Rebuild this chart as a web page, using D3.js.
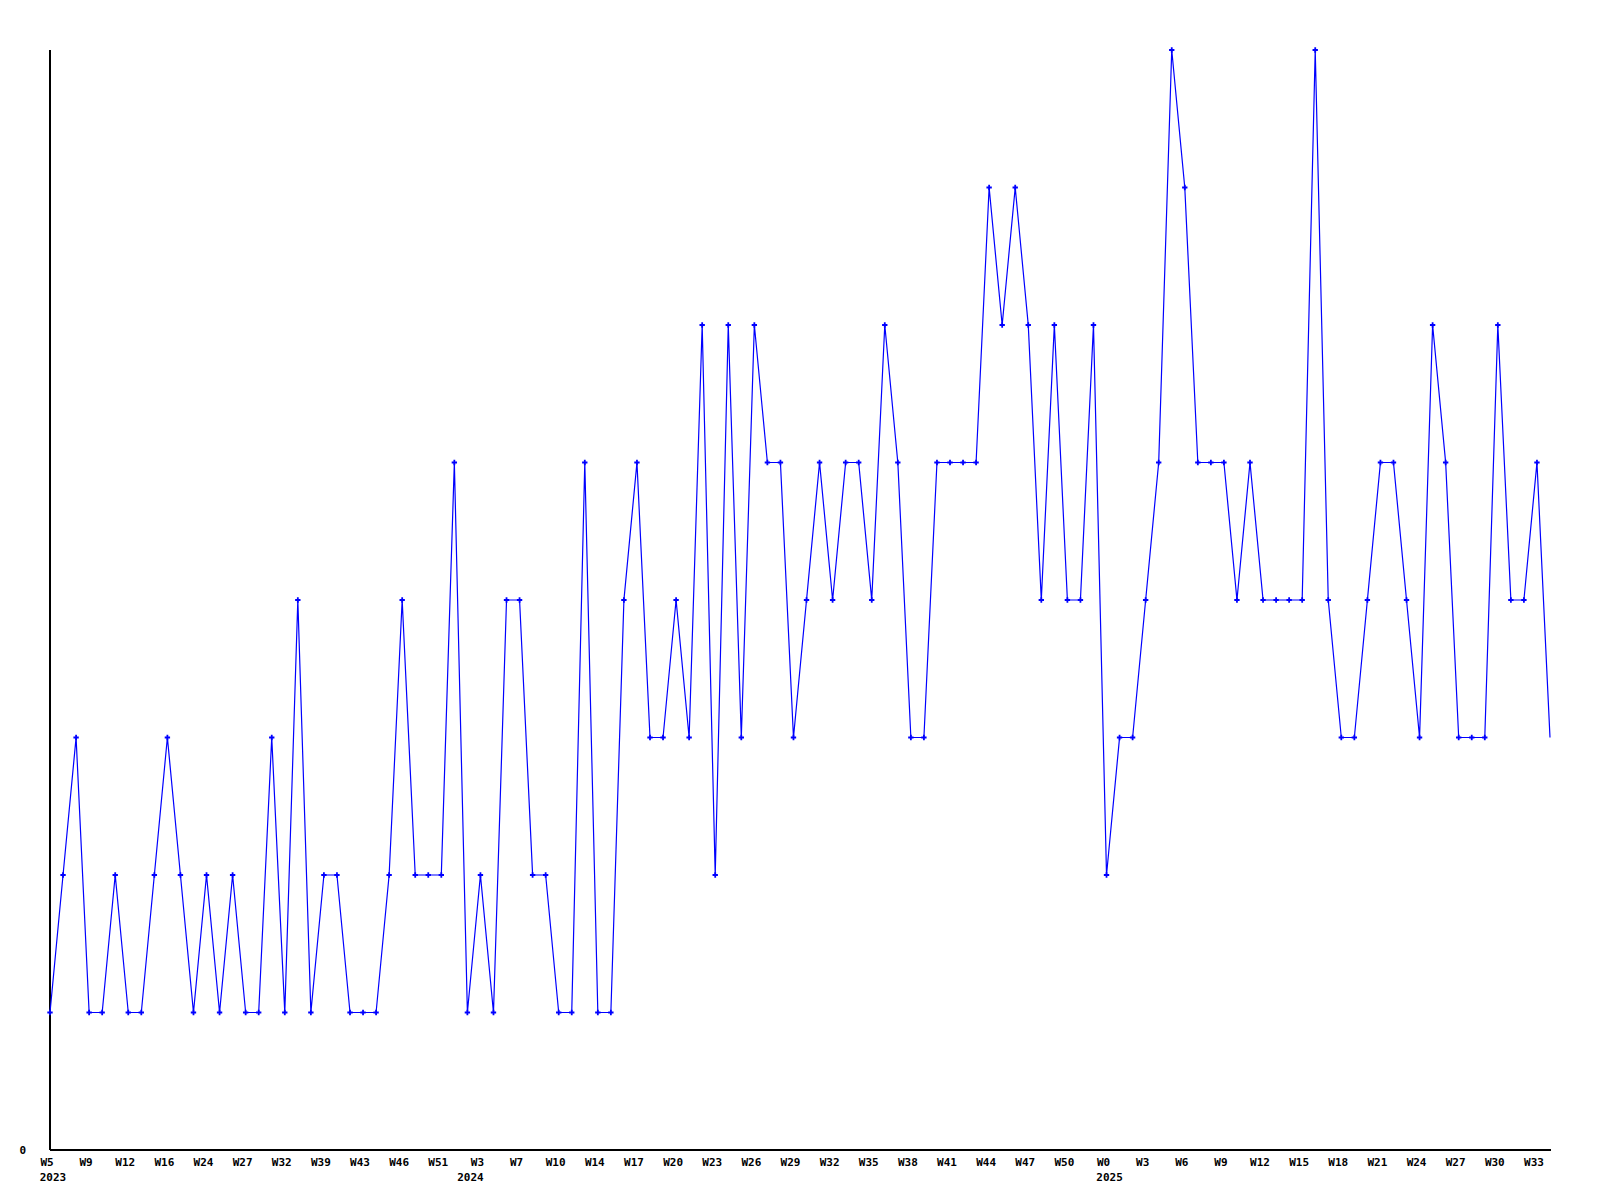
<!DOCTYPE html>
<html>
<head>
<meta charset="utf-8">
<script src="https://cdn.jsdelivr.net/npm/d3@7"></script>
<style>
html,body{margin:0;padding:0;background:#fff;}
svg text{font-family:"DejaVu Sans Mono",monospace;font-weight:bold;font-size:11px;fill:#000;}
</style>
</head>
<body>
<svg id="chart" width="1600" height="1200"></svg>
<script>
// Weekly values (one per data week, 116 points)
const values = [
  1,2,3,1,1,2,1,1,2,3,
  2,1,2,1,2,1,1,3,1,4,
  1,2,2,1,1,1,2,4,2,2,
  2,5,1,2,1,4,4,2,2,1,
  1,5,1,1,4,5,3,3,4,3,
  6,2,6,3,6,5,5,3,4,5,
  4,5,5,4,6,5,3,3,5,5,
  5,5,7,6,7,6,4,6,4,4,
  6,2,3,3,4,5,8,7,5,5,
  5,4,5,4,4,4,4,8,4,3,
  3,4,5,5,4,3,6,5,3,3,
  3,6,4,4,5,3
];
// Tick labels, one every 3rd point
const tickLabels = ["W5","W9","W12","W16","W24","W27","W32","W39","W43","W46","W51",
  "W3","W7","W10","W14","W17","W20","W23","W26","W29","W32","W35","W38","W41","W44","W47","W50",
  "W0","W3","W6","W9","W12","W15","W18","W21","W24","W27","W30","W33"];
const tickStep = 3;
// Year labels placed at the first data week of each year
const yearLabels = ["2023","2024","2025"];
const yearIndex = [0, 32, 81];
const yTickValues = [0];

const svg = d3.select("#chart");
const mLeft = 50, mRight = 1550, mTop = 50, mBottom = 1150;

const x = d3.scaleLinear().domain([0, values.length - 1]).range([mLeft, mRight]);
const y = d3.scaleLinear().domain([0, 8]).range([mBottom, mTop]);

// axes
svg.append("line").attr("x1", mLeft).attr("x2", mLeft).attr("y1", mTop).attr("y2", mBottom)
  .attr("stroke", "#000").attr("stroke-width", 1.3).attr("shape-rendering","crispEdges");
svg.append("line").attr("x1", mLeft).attr("x2", mRight + 1).attr("y1", mBottom).attr("y2", mBottom)
  .attr("stroke", "#000").attr("stroke-width", 1.3).attr("shape-rendering","crispEdges");

svg.selectAll("text.ytick").data(yTickValues).enter().append("text")
  .attr("class","ytick")
  .attr("x", 26).attr("y", d => y(d) + 4)
  .attr("text-anchor", "end")
  .text(d => d);

svg.selectAll("text.xtick").data(tickLabels).enter().append("text")
  .attr("class","xtick")
  .attr("x", (d, i) => x(i * tickStep) - 3)
  .attr("y", mBottom + 16)
  .attr("text-anchor", "middle")
  .text(d => d);

svg.selectAll("text.year").data(yearLabels).enter().append("text")
  .attr("class","year")
  .attr("x", (d, i) => x(yearIndex[i]) + 3)
  .attr("y", mBottom + 31)
  .attr("text-anchor", "middle")
  .text(d => d);

// line
const line = d3.line().x((d, i) => x(i)).y(d => y(d));
svg.append("path").datum(values)
  .attr("d", line)
  .attr("fill", "none")
  .attr("stroke", "#0000ff")
  .attr("stroke-width", 1.2);

// markers (all but the last point)
const sym = d3.symbol().type(d3.symbolCross).size(16);
svg.selectAll("path.mk").data(values.slice(0, -1)).enter().append("path")
  .attr("class","mk")
  .attr("d", sym)
  .attr("transform", (d, i) => `translate(${x(i)},${y(d)})`)
  .attr("fill", "#0000ff");
</script>
</body>
</html>
